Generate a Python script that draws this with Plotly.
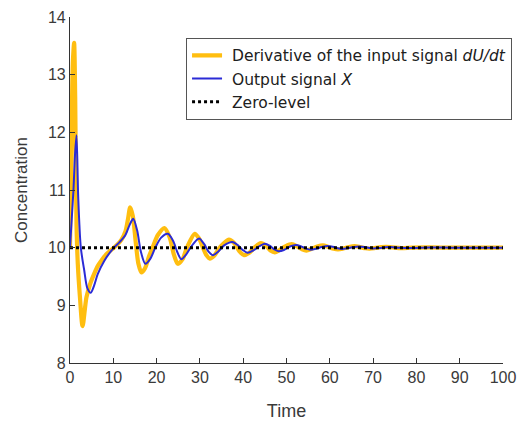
import plotly.graph_objects as go

# Derivative of the input signal dU/dt
t_u = [0, 0.3, 0.65, 0.95, 1.2, 1.5, 1.8, 2.3, 2.9, 3.8, 4.7, 5.6, 6.4, 7.2, 8.3, 9.5,
       10.9, 11.9, 12.8, 13.4, 13.9, 14.5, 15.2, 15.8, 16.5, 17.3, 18.3, 19.2, 20.3, 21.8,
       23.0, 24.0, 24.9, 26.0, 27.0, 28.8, 29.8, 30.7, 31.5, 32.3, 33.3, 34.8, 36.7, 37.9,
       39.1, 40.2, 41.4, 42.7, 44.1, 45.3, 46.3, 47.3, 48.4, 49.7, 51.2, 52.5, 53.6, 54.6,
       55.8, 57.1, 58.4, 59.7, 60.9, 61.9, 63.1, 64.4, 65.7, 67.0, 68.2, 69.2, 70.5, 71.8,
       73.0, 74.5, 76.5, 79.0, 83.0, 88.0, 94.0, 100.0]
dudt = [10.0, 11.6, 13.2, 13.55, 12.6, 10.4, 9.72, 9.14, 8.64, 9.14, 9.38, 9.55, 9.68, 9.77, 9.88, 9.96,
        10.05, 10.14, 10.28, 10.5, 10.70, 10.55, 10.08, 9.72, 9.57, 9.64, 9.86, 10.03, 10.22, 10.34,
        10.18, 9.88, 9.72, 9.8, 10.0, 10.24, 10.16, 10.0, 9.87, 9.81, 9.86, 10.02, 10.14, 10.08,
        9.94, 9.87, 9.91, 10.01, 10.08, 10.03, 9.95, 9.92, 9.96, 10.02, 10.06, 10.02, 9.97, 9.95,
        9.98, 10.02, 10.04, 10.01, 9.98, 9.97, 9.985, 10.01, 10.025, 10.01, 9.99, 9.985, 9.995, 10.008,
        10.015, 10.005, 9.992, 10.0, 10.004, 10.0, 10.0, 10.0]

# Output signal X
t_x = [0, 0.4, 0.8, 1.15, 1.5, 1.9, 2.5, 3.3, 4.0, 4.8, 5.6, 6.4, 7.9, 9.8, 11.5, 12.8,
       13.8, 14.6, 15.5, 16.4, 17.4, 18.5, 19.7, 21.0, 22.6, 23.8, 24.8, 25.7, 26.8, 28.0,
       29.8, 31.0, 32.0, 33.0, 34.2, 35.6, 37.5, 38.8, 39.9, 41.0, 42.3, 43.6, 45.0, 46.2,
       47.2, 48.2, 49.4, 50.8, 52.2, 53.4, 54.5, 55.5, 56.8, 58.1, 59.5, 60.7, 61.8, 62.8,
       64.1, 65.4, 66.8, 68.0, 69.1, 70.1, 71.5, 72.8, 74.0, 76.0, 79.0, 83.0, 88.0, 94.0, 100.0]
x_out = [10.0, 10.5, 11.0, 11.6, 11.95, 10.87, 10.0, 9.6, 9.3, 9.22, 9.35, 9.54, 9.77, 9.97, 10.1, 10.22,
         10.4, 10.5, 10.3, 9.92, 9.72, 9.8, 10.0, 10.17, 10.24, 10.12, 9.92, 9.8, 9.88, 10.02,
         10.16, 10.06, 9.93, 9.87, 9.93, 10.04, 10.1, 10.04, 9.96, 9.91, 9.95, 10.02, 10.07, 10.03,
         9.97, 9.94, 9.96, 10.02, 10.045, 10.02, 9.985, 9.965, 9.98, 10.01, 10.03, 10.015, 9.99, 9.978,
         9.99, 10.01, 10.02, 10.01, 9.994, 9.986, 9.995, 10.006, 10.01, 10.0, 9.995, 10.002, 10.0, 10.0, 10.0]

# Zero-level
t_zero = [0, 100]
zero_level = [10, 10]

x_ticks = [0, 10, 20, 30, 40, 50, 60, 70, 80, 90, 100]
y_ticks = [8, 9, 10, 11, 12, 13, 14]

font_family = "Liberation Sans, Arial, sans-serif"
text_color = "#3a3a3a"

fig = go.Figure()
fig.add_trace(go.Scatter(
    x=t_u, y=dudt, mode="lines", line=dict(color="#FFBE10", width=4.2, shape="spline", smoothing=0.8),
    name="&nbsp;Derivative of the input signal <i>dU/dt</i>"))
fig.add_trace(go.Scatter(
    x=t_x, y=x_out, mode="lines", line=dict(color="#2B2BD6", width=2, shape="spline", smoothing=0.8),
    name="&nbsp;Output signal <i>X</i>"))
fig.add_trace(go.Scatter(
    x=t_zero, y=zero_level, mode="lines", line=dict(color="black", width=3, dash="dot"),
    name="&nbsp;Zero-level"))

fig.update_layout(
    width=523, height=421,
    margin=dict(l=70, r=20, t=17, b=58, autoexpand=False),
    paper_bgcolor="white", plot_bgcolor="white",
    font=dict(family=font_family, size=15, color=text_color),
    showlegend=True,
    legend=dict(
        x=0.268, y=0.94, xanchor="left", yanchor="top",
        bgcolor="white", bordercolor="#555555", borderwidth=1,
        font=dict(family="DejaVu Sans, sans-serif", size=15.5, color="#202020"), itemwidth=30,
        tracegroupgap=0, traceorder="normal",
    ),
    xaxis=dict(
        range=[0, 100], tickvals=x_ticks, ticks="inside", ticklen=5, tickcolor="#333",
        showline=True, linecolor="#333", linewidth=1.2, showgrid=False, zeroline=False,
        tickfont=dict(size=16), title=dict(text="Time", font=dict(size=18), standoff=19),
    ),
    yaxis=dict(
        range=[8, 14], tickvals=y_ticks, ticks="inside", ticklen=5, tickcolor="#333",
        showline=True, linecolor="#333", linewidth=1.2, showgrid=False, zeroline=False,
        tickfont=dict(size=16), title=dict(text="Concentration", font=dict(size=17), standoff=15),
    ),
)

fig.write_html("out.html")
